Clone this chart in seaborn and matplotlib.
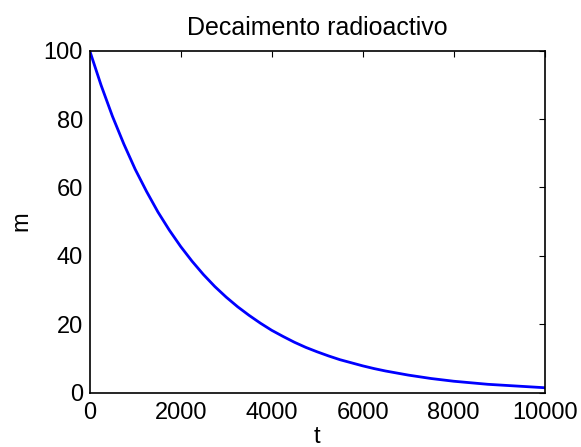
import numpy as np
import pandas as pd
import matplotlib
matplotlib.use("Agg")
import matplotlib.pyplot as plt
import seaborn as sns

# valores (t cada 250)
t = [0, 250, 500, 750, 1000, 1250, 1500, 1750, 2000, 2250,
     2500, 2750, 3000, 3250, 3500, 3750, 4000, 4250, 4500, 4750,
     5000, 5250, 5500, 5750, 6000, 6250, 6500, 6750, 7000, 7250,
     7500, 7750, 8000, 8250, 8500, 8750, 9000, 9250, 9500, 9750, 10000]
m = [100.0, 89.9, 80.8, 72.7, 65.3, 58.8, 52.8, 47.5, 42.7, 38.4,
     34.5, 31.0, 27.9, 25.1, 22.6, 20.3, 18.2, 16.4, 14.7, 13.2,
     11.9, 10.7, 9.6, 8.7, 7.8, 7.0, 6.3, 5.7, 5.1, 4.6,
     4.1, 3.7, 3.3, 3.0, 2.7, 2.4, 2.2, 2.0, 1.8, 1.6, 1.4]

xticks = [0, 2000, 4000, 6000, 8000, 10000]
yticks = [0, 20, 40, 60, 80, 100]

df = pd.DataFrame({"t": t, "m": m})

sns.set_style("white")
plt.rcParams["font.family"] = ["Liberation Sans", "DejaVu Sans"]
plt.rcParams["text.color"] = "black"
plt.rcParams["axes.labelcolor"] = "black"

fig = plt.figure(figsize=(5.81, 4.47), dpi=100)
ax = fig.add_axes([0.1544, 0.1219, 0.7831, 0.7647])

sns.lineplot(data=df, x="t", y="m", color="#0000ff", linewidth=2.0, ax=ax)

ax.set_xlim(0, 10000)
ax.set_ylim(0, 100)
ax.set_xticks(xticks)
ax.set_yticks(yticks)
ax.tick_params(direction="in", length=4, width=0.8, labelsize=17,
               top=True, right=True, colors="black")
ax.tick_params(axis="x", pad=7)
ax.tick_params(axis="y", pad=5)
for s in ax.spines.values():
    s.set_visible(True)
    s.set_color("black")
    s.set_linewidth(1.2)

ax.set_title("Decaimento radioactivo", fontsize=18, pad=11, color="black")
ax.set_xlabel("t", fontsize=17, labelpad=1)
ax.set_ylabel("m", fontsize=17, labelpad=8)

fig.savefig("out.png", dpi=100)
